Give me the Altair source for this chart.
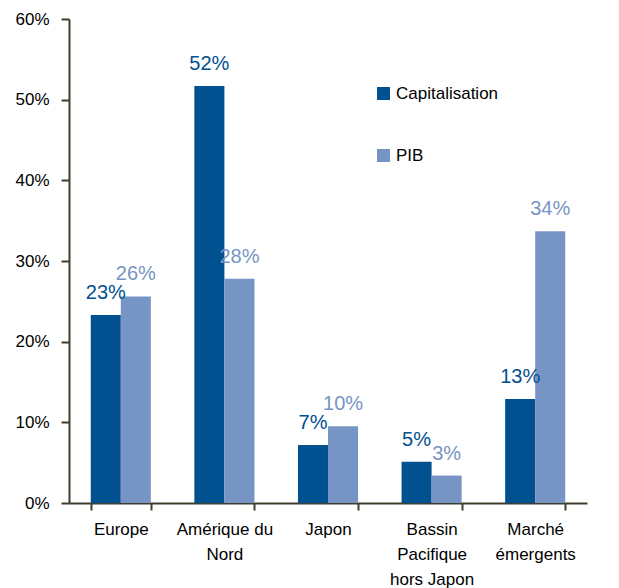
import altair as alt
import pandas as pd

categories = ["Europe", "Amérique du Nord", "Japon", "Bassin Pacifique hors Japon", "Marché émergents"]
capitalisation = [0.233, 0.517, 0.072, 0.051, 0.129]
pib = [0.256, 0.278, 0.095, 0.034, 0.337]
series = ["Capitalisation", "PIB"]
colors = ["#01508F", "#7795C4"]

rows = []
for c, a, b in zip(categories, capitalisation, pib):
    rows.append({"Région": c, "Série": series[0], "Valeur": a})
    rows.append({"Région": c, "Série": series[1], "Valeur": b})
df = pd.DataFrame(rows)

label_expr = (
    "datum.value == 'Amérique du Nord' ? ['Amérique du', 'Nord'] : "
    "datum.value == 'Bassin Pacifique hors Japon' ? ['Bassin', 'Pacifique', 'hors Japon'] : "
    "datum.value == 'Marché émergents' ? ['Marché', 'émergents'] : datum.value"
)

x = alt.X(
    "Région:N",
    sort=categories,
    title=None,
    scale=alt.Scale(paddingInner=0.42, paddingOuter=0.21),
    axis=alt.Axis(
        labelAngle=0,
        labelExpr=label_expr,
        tickBand="extent",
        tickSize=7,
        labelPadding=11,
        labelLineHeight=25,
        labelBaseline="top",
    ),
)
y = alt.Y(
    "Valeur:Q",
    title=None,
    scale=alt.Scale(domain=[0, 0.6], nice=False),
    axis=alt.Axis(format=".0%", values=[0, 0.1, 0.2, 0.3, 0.4, 0.5, 0.6], tickSize=8, labelPadding=12, grid=False),
)
color_scale = alt.Scale(domain=series, range=colors)

bars = alt.Chart(df).mark_bar().encode(
    x=x,
    y=y,
    xOffset=alt.XOffset("Série:N", sort=series),
    color=alt.Color(
        "Série:N",
        scale=color_scale,
        title=None,
        legend=alt.Legend(
            orient="none",
            legendX=306,
            legendY=66,
            symbolType="square",
            symbolSize=170,
            symbolStrokeWidth=0,
            labelFontSize=17,
            labelColor="black",
            labelFont="Liberation Sans",
            rowPadding=44,
            labelOffset=4,
        ),
    ),
)

texts = alt.Chart(df).mark_text(
    baseline="bottom", dy=-12, fontSize=20, font="Liberation Sans Narrow, Liberation Sans"
).encode(
    x=alt.X("Région:N", sort=categories),
    y=alt.Y("Valeur:Q"),
    xOffset=alt.XOffset("Série:N", sort=series),
    text=alt.Text("Valeur:Q", format=".0%"),
    color=alt.Color("Série:N", scale=color_scale, legend=None),
)

chart = (
    alt.layer(bars, texts)
    .properties(
        width=518,
        height=484,
        autosize="none",
        background="white",
        padding={"left": 69, "top": 19, "right": 32, "bottom": 85},
    )
    .configure_view(stroke=None)
    .configure_axis(
        domainColor="#3E3E2E",
        tickColor="#3E3E2E",
        domainWidth=2,
        tickWidth=2,
        labelFont="Liberation Sans",
        labelFontSize=17,
        labelColor="black",
        grid=False,
    )
)

chart.save("out.html", embed_options={"renderer": "svg", "actions": False})
